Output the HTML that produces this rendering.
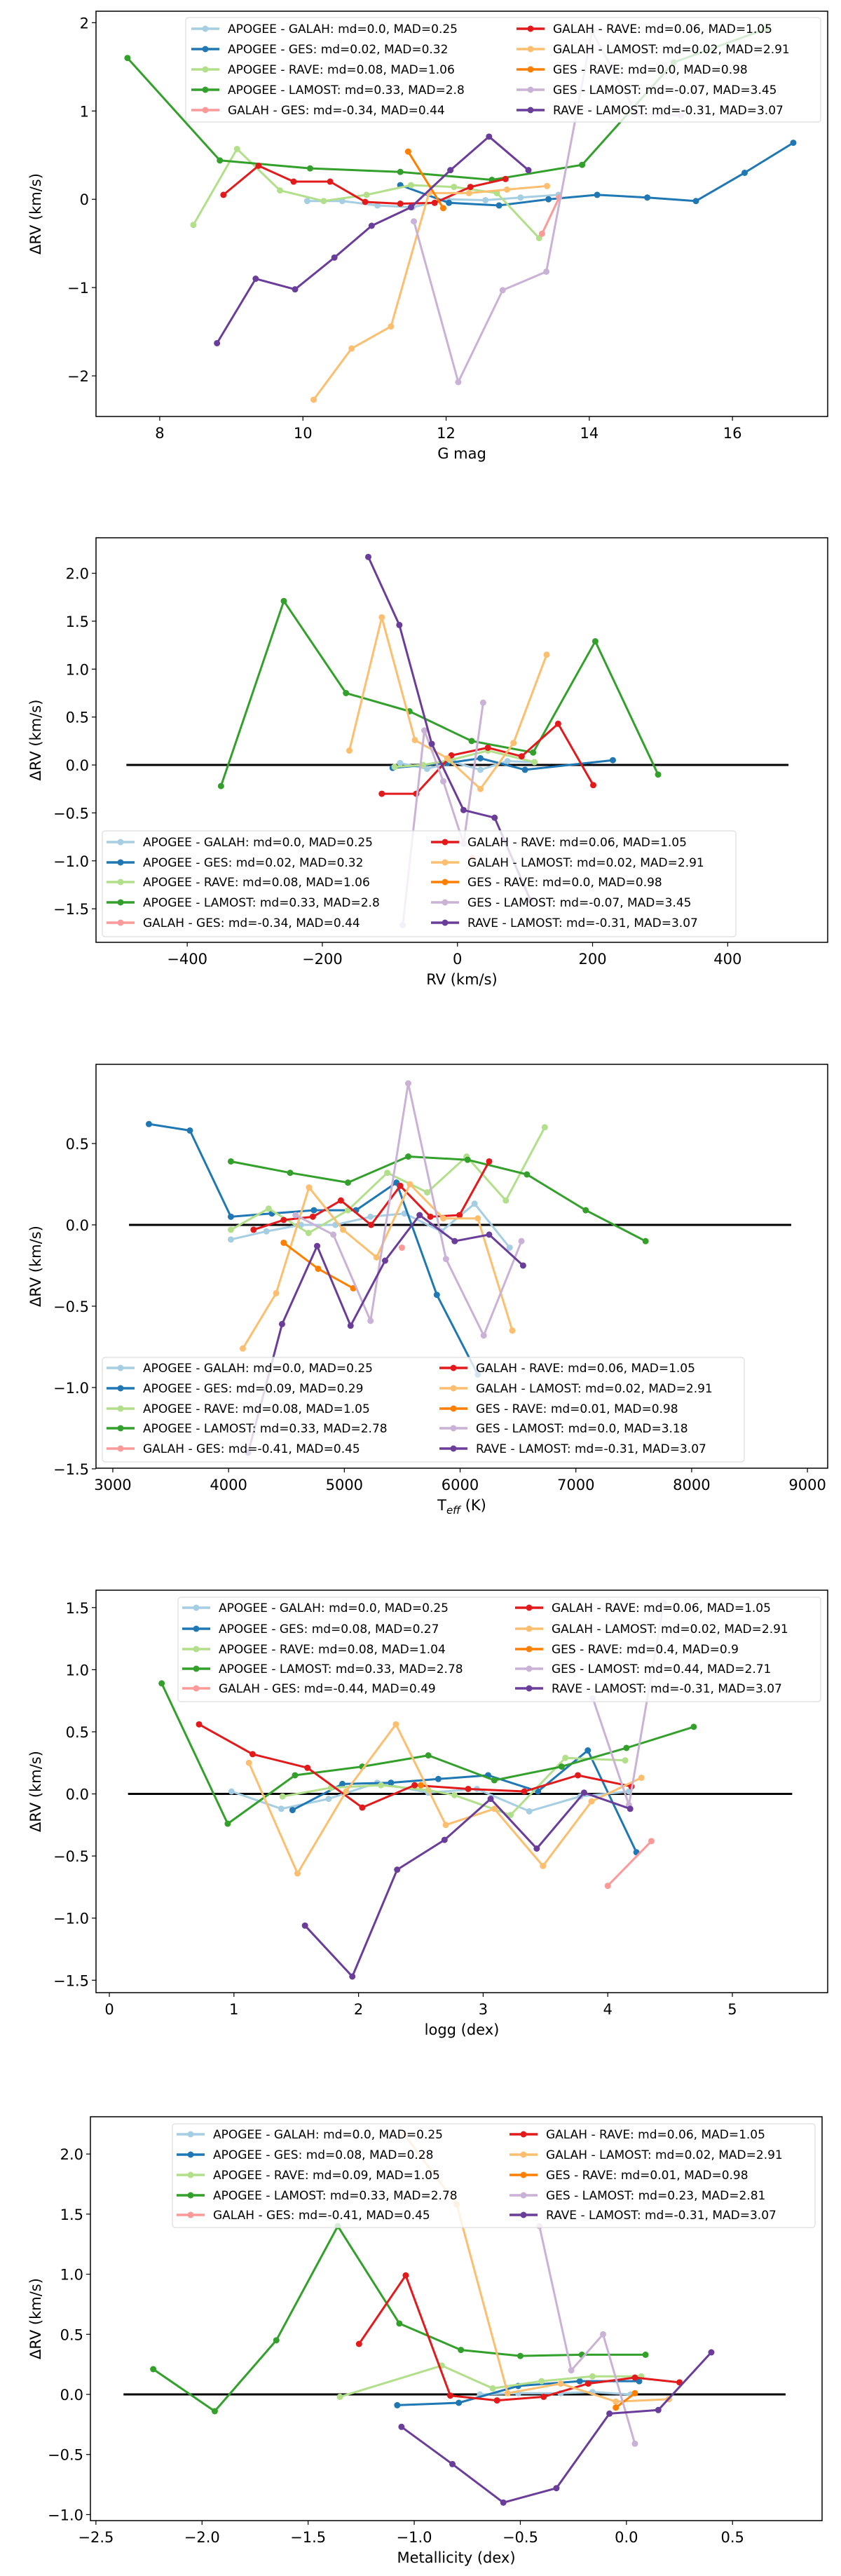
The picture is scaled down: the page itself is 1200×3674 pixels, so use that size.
<!DOCTYPE html>
<html><head><meta charset="utf-8"><style>
html,body{margin:0;padding:0;background:#fff;}
svg{display:block;font-family:"DejaVu Sans","Liberation Sans",sans-serif;}
</style></head><body>
<svg id="fig" width="1200" height="3674" viewBox="0 0 1200 3674" xmlns="http://www.w3.org/2000/svg"></svg>
<script>
const seriesNames = ["APOGEE - GALAH","APOGEE - GES","APOGEE - RAVE","APOGEE - LAMOST","GALAH - GES","GALAH - RAVE","GALAH - LAMOST","GES - RAVE","GES - LAMOST","RAVE - LAMOST"];
const colors = ["#a6cee3","#1f78b4","#b2df8a","#33a02c","#fb9a99","#e31a1c","#fdbf6f","#ff7f00","#cab2d6","#6a3d9a"];

// Panel 1: G mag
const p1Stats = ["md=0.0, MAD=0.25","md=0.02, MAD=0.32","md=0.08, MAD=1.06","md=0.33, MAD=2.8","md=-0.34, MAD=0.44","md=0.06, MAD=1.05","md=0.02, MAD=2.91","md=0.0, MAD=0.98","md=-0.07, MAD=3.45","md=-0.31, MAD=3.07"];
const p1X = [
 [10.06,10.55,11.04,11.53,12.02,12.55,13.04,13.57],
 [11.36,12.04,12.74,13.43,14.11,14.81,15.49,16.17,16.85],
 [8.47,9.08,9.68,10.29,10.89,11.51,12.11,12.71,13.3],
 [7.55,8.84,10.1,11.36,12.64,13.9,15.18,16.47],
 [13.34,13.58],
 [8.89,9.38,9.87,10.38,10.87,11.36,11.84,12.34,12.83],
 [10.15,10.68,11.23,11.76,12.32,12.85,13.41],
 [11.47,11.96],
 [11.55,12.17,12.79,13.4,14.04,14.66,15.28],
 [8.8,9.34,9.89,10.44,10.96,11.51,12.06,12.6,13.15]];
const p1Y = [
 [-0.02,-0.02,-0.07,-0.09,0.0,-0.01,0.02,0.05],
 [0.16,-0.04,-0.07,0.0,0.05,0.02,-0.02,0.30,0.64],
 [-0.29,0.57,0.10,-0.02,0.05,0.16,0.14,0.07,-0.44],
 [1.6,0.44,0.35,0.31,0.22,0.39,1.55,1.93],
 [-0.39,0.02],
 [0.05,0.38,0.20,0.20,-0.03,-0.05,-0.04,0.14,0.23],
 [-2.27,-1.69,-1.44,0.07,0.07,0.11,0.15],
 [0.54,-0.1],
 [-0.25,-2.07,-1.03,-0.82,1.9,0.97,0.95],
 [-1.63,-0.9,-1.02,-0.66,-0.3,-0.09,0.33,0.71,0.33]];
const p1XTicks = [8,10,12,14,16];
const p1YTicks = [-2,-1,0,1,2];

// Panel 2: RV
const p2Stats = ["md=0.0, MAD=0.25","md=0.02, MAD=0.32","md=0.08, MAD=1.06","md=0.33, MAD=2.8","md=-0.34, MAD=0.44","md=0.06, MAD=1.05","md=0.02, MAD=2.91","md=0.0, MAD=0.98","md=-0.07, MAD=3.45","md=-0.31, MAD=3.07"];
const p2X = [
 [-85,-45,-6,34,74,114],
 [-96,-15,34,100,230],
 [-93,-51,-11,45,114],
 [-350,-257,-165,-71,21,112,204,297],
 [22],
 [-112,-61,-9,45,95,149,201],
 [-160,-112,-63,-15,34,83,132],
 [],
 [-81,-49,-21,9,38],
 [-132,-86,-38,9,55,108]];
const p2Y = [
 [0.02,-0.04,0.03,-0.05,0.04,0.03],
 [-0.03,0.02,0.07,-0.05,0.05],
 [-0.02,0.0,0.05,0.15,0.03],
 [-0.22,1.71,0.75,0.56,0.25,0.13,1.29,-0.1],
 [-0.97],
 [-0.3,-0.3,0.10,0.18,0.09,0.43,-0.21],
 [0.15,1.54,0.26,0.07,-0.25,0.23,1.15],
 [],
 [-1.67,0.36,-0.17,-0.82,0.65],
 [2.17,1.46,0.22,-0.47,-0.55,-1.41]];
const p2XTicks = [-400,-200,0,200,400];
const p2YTicks = [-1.5,-1.0,-0.5,0.0,0.5,1.0,1.5,2.0];

// Panel 3: Teff
const p3Stats = ["md=0.0, MAD=0.25","md=0.09, MAD=0.29","md=0.08, MAD=1.05","md=0.33, MAD=2.78","md=-0.41, MAD=0.45","md=0.06, MAD=1.05","md=0.02, MAD=2.91","md=0.01, MAD=0.98","md=0.0, MAD=3.18","md=-0.31, MAD=3.07"];
const p3X = [
 [4020,4327,4625,4923,5226,5520,5837,6125,6428],
 [3312,3666,4020,4374,4737,5101,5450,5799,6153],
 [4020,4346,4691,5031,5371,5716,6056,6395,6731],
 [4020,4532,5031,5552,6065,6577,7085,7602],
 [5497],
 [4216,4476,4728,4970,5231,5483,5743,5995,6251],
 [4123,4411,4695,4989,5278,5566,5855,6153,6451],
 [4476,4774,5077],
 [4579,4905,5226,5552,5878,6204,6530],
 [4169,4462,4765,5054,5352,5650,5953,6251,6544]];
const p3Y = [
 [-0.09,-0.04,0.0,0.0,0.05,0.07,-0.04,0.13,-0.14],
 [0.62,0.58,0.05,0.07,0.09,0.09,0.26,-0.43,-0.92],
 [-0.03,0.1,-0.05,0.09,0.32,0.2,0.42,0.15,0.6],
 [0.39,0.32,0.26,0.42,0.4,0.31,0.09,-0.1],
 [-0.14],
 [-0.03,0.03,0.05,0.15,0.0,0.24,0.05,0.06,0.39],
 [-0.76,-0.42,0.23,-0.03,-0.2,0.25,0.04,0.04,-0.65],
 [-0.11,-0.27,-0.39],
 [0.06,-0.06,-0.59,0.87,-0.21,-0.68,-0.1],
 [-1.4,-0.61,-0.13,-0.62,-0.22,0.06,-0.1,-0.06,-0.25]];
const p3XTicks = [3000,4000,5000,6000,7000,8000,9000];
const p3YTicks = [-1.5,-1.0,-0.5,0.0,0.5];

// Panel 4: logg
const p4Stats = ["md=0.0, MAD=0.25","md=0.08, MAD=0.27","md=0.08, MAD=1.04","md=0.33, MAD=2.78","md=-0.44, MAD=0.49","md=0.06, MAD=1.05","md=0.02, MAD=2.91","md=0.4, MAD=0.9","md=0.44, MAD=2.71","md=-0.31, MAD=3.07"];
const p4X = [
 [0.98,1.38,1.76,2.15,2.56,2.95,3.37,3.78,4.17],
 [1.47,1.87,2.26,2.64,3.04,3.44,3.84,4.23],
 [1.39,1.78,2.18,2.56,2.77,3.22,3.66,4.14],
 [0.42,0.95,1.49,2.03,2.56,3.09,3.63,4.15,4.69],
 [4.0,4.35],
 [0.72,1.15,1.59,2.03,2.45,2.88,3.33,3.76,4.19],
 [1.12,1.51,1.9,2.3,2.7,3.09,3.48,3.87,4.27],
 [2.5],
 [3.88,4.17,4.45],
 [1.57,1.95,2.31,2.69,3.06,3.43,3.81,4.18]];
const p4Y = [
 [0.02,-0.12,-0.04,0.09,0.01,0.04,-0.14,-0.02,0.02],
 [-0.13,0.08,0.09,0.12,0.15,0.02,0.35,-0.47],
 [-0.02,0.05,0.07,0.03,-0.01,-0.17,0.29,0.27],
 [0.89,-0.24,0.15,0.22,0.31,0.11,0.22,0.37,0.54],
 [-0.74,-0.38],
 [0.56,0.32,0.21,-0.11,0.07,0.04,0.02,0.15,0.06],
 [0.25,-0.64,0.02,0.56,-0.25,-0.12,-0.58,-0.06,0.13],
 [0.07],
 [0.77,-0.09,1.54],
 [-1.06,-1.47,-0.61,-0.37,-0.04,-0.44,0.01,-0.12]];
const p4XTicks = [0,1,2,3,4,5];
const p4YTicks = [-1.5,-1.0,-0.5,0.0,0.5,1.0,1.5];

// Panel 5: Metallicity
const p5Stats = ["md=0.0, MAD=0.25","md=0.08, MAD=0.28","md=0.09, MAD=1.05","md=0.33, MAD=2.78","md=-0.41, MAD=0.45","md=0.06, MAD=1.05","md=0.02, MAD=2.91","md=0.01, MAD=0.98","md=0.23, MAD=2.81","md=-0.31, MAD=3.07"];
const p5X = [
 [-0.69,-0.51,-0.31,-0.16,0.02],
 [-1.08,-0.79,-0.51,-0.22,0.06],
 [-1.35,-0.87,-0.63,-0.4,-0.16,0.07],
 [-2.23,-1.94,-1.65,-1.36,-1.07,-0.78,-0.5,-0.21,0.09],
 [],
 [-1.26,-1.04,-0.83,-0.61,-0.39,-0.18,0.04,0.25],
 [-1.05,-0.8,-0.56,-0.31,-0.05,0.2],
 [-0.05,0.04],
 [-0.41,-0.26,-0.11,0.04],
 [-1.06,-0.82,-0.58,-0.33,-0.08,0.15,0.4]];
const p5Y = [
 [0.0,0.01,0.01,0.02,0.0],
 [-0.09,-0.07,0.07,0.11,0.11],
 [-0.02,0.24,0.05,0.11,0.15,0.15],
 [0.21,-0.14,0.45,1.4,0.59,0.37,0.32,0.33,0.33],
 [],
 [0.42,0.99,-0.01,-0.05,-0.02,0.09,0.14,0.1],
 [2.17,1.58,0.01,0.09,-0.06,-0.04],
 [-0.11,0.01],
 [1.4,0.2,0.5,-0.41],
 [-0.27,-0.58,-0.9,-0.78,-0.16,-0.13,0.35]];
const p5XTicks = [-2.5,-2.0,-1.5,-1.0,-0.5,0.0,0.5];
const p5YTicks = [-1.0,-0.5,0.0,0.5,1.0,1.5,2.0];

const NS = "http://www.w3.org/2000/svg";
const fig = document.getElementById('fig');
function mk(tag, parent, attrs){ const e=document.createElementNS(NS,tag); for(const k in attrs) e.setAttribute(k,attrs[k]); parent.appendChild(e); return e; }
function fmt(v,dec){ const s = dec ? Math.abs(v).toFixed(1) : String(Math.abs(v)); return (v<0?"\u2212":"")+s; }

const layouts = [
 {name:"gmag", X:p1X, Y:p1Y, stats:p1Stats, xt:p1XTicks, yt:p1YTicks, dec:false, xdec:false, L:137,R:1181,T:16,B:594, x0:7.11,x1:17.33,y0:-2.46,y1:2.13, zero:null, xlabel:"G mag",
  leg:{x:265,y:25,w:906,h:149,rows:[41,70,99,128,157],c1:273,c2:737}},
 {name:"rv", X:p2X, Y:p2Y, stats:p2Stats, xt:p2XTicks, yt:p2YTicks, dec:true, xdec:false, L:137,R:1181,T:767,B:1344, x0:-535,x1:548,y0:-1.85,y1:2.37, zero:[-490,490], xlabel:"RV (km/s)",
  leg:{x:146,y:1185,w:904,h:151,rows:[1201,1230,1258,1287,1316],c1:152,c2:615}},
 {name:"teff", X:p3X, Y:p3Y, stats:p3Stats, xt:p3XTicks, yt:p3YTicks, dec:true, xdec:false, L:137,R:1181,T:1518,B:2094, x0:2855,x1:9175,y0:-1.496,y1:0.987, zero:[3140,8860], xlabel:"T_eff (K)",
  leg:{x:146,y:1936,w:916,h:149,rows:[1951,1980,2009,2037,2066],c1:152,c2:627}},
 {name:"logg", X:p4X, Y:p4Y, stats:p4Stats, xt:p4XTicks, yt:p4YTicks, dec:true, xdec:false, L:137,R:1181,T:2268,B:2842, x0:-0.107,x1:5.765,y0:-1.6,y1:1.64, zero:[0.15,5.48], xlabel:"logg (dex)",
  leg:{x:254,y:2278,w:917,h:149,rows:[2293,2323,2352,2380,2408],c1:260,c2:735}},
 {name:"metallicity", X:p5X, Y:p5Y, stats:p5Stats, xt:p5XTicks, yt:p5YTicks, dec:true, xdec:true, L:129,R:1173,T:3019,B:3595, x0:-2.526,x1:0.922,y0:-1.05,y1:2.31, zero:[-2.37,0.75], xlabel:"Metallicity (dex)",
  leg:{x:246,y:3029,w:917,h:148,rows:[3044,3073,3102,3131,3159],c1:252,c2:727}}
];

layouts.forEach((p)=>{
  const g = mk('g', fig, {});
  
  
  const sx = v => p.L + (v-p.x0)/(p.x1-p.x0)*(p.R-p.L);
  const sy = v => p.B - (v-p.y0)/(p.y1-p.y0)*(p.B-p.T);
  p.xt.forEach(t=>{
    const x=sx(t);
    const tk = mk('line', g, {x1:x,x2:x,y1:p.B,y2:p.B+6,stroke:'#000','stroke-width':1.2});
    
    
    const tl = mk('text', g, {x:x,y:p.B+31,'font-size':21,'text-anchor':'middle',fill:'#000'});
    
    
    tl.textContent = fmt(t,p.xdec);
  });
  p.yt.forEach(t=>{
    const y=sy(t);
    const tk = mk('line', g, {x1:p.L-6,x2:p.L,y1:y,y2:y,stroke:'#000','stroke-width':1.2});
    
    
    const tl = mk('text', g, {x:p.L-10,y:y+8,'font-size':21,'text-anchor':'end',fill:'#000'});
    
    
    tl.textContent = fmt(t,p.dec);
  });
  const xl = mk('text', g, {x:(p.L+p.R)/2,y:p.B+60,'font-size':21,'text-anchor':'middle',fill:'#000'});
  
  
  if(p.xlabel==='T_eff (K)'){
    xl.textContent='T';
    const sub = mk('tspan', xl, {'font-size':15,'font-style':'italic',dy:5}); sub.textContent='eff';
    const rest = mk('tspan', xl, {dy:-5}); rest.textContent=' (K)';
  } else xl.textContent = p.xlabel;
  const cy=(p.T+p.B)/2;
  const yl = mk('text', g, {x:58,y:cy,'font-size':21,'text-anchor':'middle',fill:'#000',transform:`rotate(-90 58 ${cy})`});
  
  
  yl.textContent = '\u0394RV (km/s)';
  if(p.zero){
    const z = mk('line', g, {x1:sx(p.zero[0]),x2:sx(p.zero[1]),y1:sy(0),y2:sy(0),stroke:'#000','stroke-width':3});
    
    
  }
  p.X.forEach((xs,i)=>{
    const ys=p.Y[i];
    if(!xs.length) return;
    const sg = mk('g', g, {});
    
    
    const pts = xs.map((x,k)=>sx(x).toFixed(1)+','+sy(ys[k]).toFixed(1)).join(' ');
    if(xs.length>1){
      const pl = mk('polyline', sg, {points:pts,fill:'none',stroke:colors[i],'stroke-width':3,'stroke-linejoin':'round'});
      
      
    }
    xs.forEach((x,k)=>{
      const c = mk('circle', sg, {cx:sx(x),cy:sy(ys[k]),r:4.5,fill:colors[i]});
      
      
    });
  });
  const fr = mk('rect', g, {x:p.L,y:p.T,width:p.R-p.L,height:p.B-p.T,fill:'none',stroke:'#000','stroke-width':1.5});
  
  
  const lg = mk('g', g, {});
  
  
  mk('rect', lg, {x:p.leg.x,y:p.leg.y,width:p.leg.w,height:p.leg.h,rx:4,fill:'#fff','fill-opacity':0.8,stroke:'#ddd','stroke-width':1.2});
  seriesNames.forEach((n,i)=>{
    const col = i<5 ? p.leg.c1 : p.leg.c2;
    const y = p.leg.rows[i%5];
    const e = mk('g', lg, {});
    
    
    mk('line', e, {x1:col,x2:col+40,y1:y,y2:y,stroke:colors[i],'stroke-width':3.5});
    mk('circle', e, {cx:col+20,cy:y,r:4.5,fill:colors[i]});
    const t = mk('text', e, {x:col+52,y:y+6,'font-size':17,fill:'#000'});
    t.textContent = n+': '+p.stats[i];
  });
});
</script>
</body></html>
